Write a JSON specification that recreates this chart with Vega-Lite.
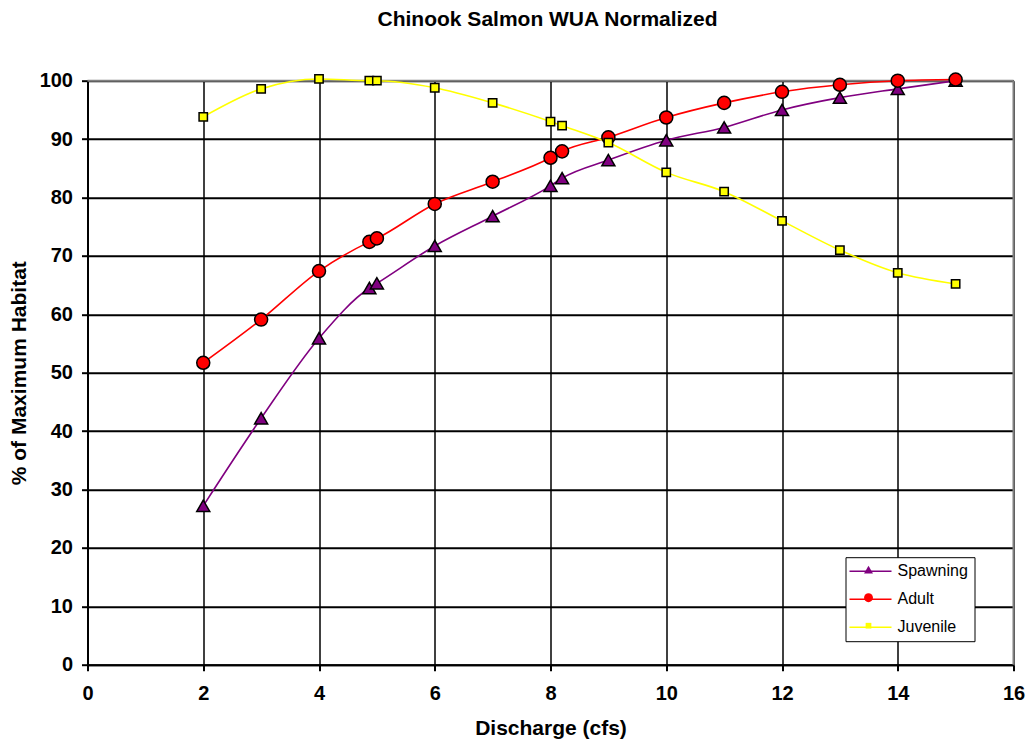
{
  "$schema": "https://vega.github.io/schema/vega-lite/v6.json",
  "width": 926,
  "height": 584,
  "autosize": "none",
  "padding": {"left": 87.5, "top": 80.7, "right": 15.5, "bottom": 79.3},
  "background": "white",
  "title": {
    "text": "Chinook Salmon WUA Normalized",
    "font": "Liberation Sans",
    "fontSize": 21,
    "fontWeight": "bold",
    "color": "black",
    "anchor": "middle",
    "dx": -3,
    "offset": 40
  },
  "datasets": {
    "wua": [
      {"q": 2, "pct": 27.2, "series": "Spawning"},
      {"q": 3, "pct": 42.2, "series": "Spawning"},
      {"q": 4, "pct": 55.9, "series": "Spawning"},
      {"q": 4.87, "pct": 64.5, "series": "Spawning"},
      {"q": 5, "pct": 65.3, "series": "Spawning"},
      {"q": 6, "pct": 71.7, "series": "Spawning"},
      {"q": 7, "pct": 76.8, "series": "Spawning"},
      {"q": 8, "pct": 82.0, "series": "Spawning"},
      {"q": 8.2, "pct": 83.3, "series": "Spawning"},
      {"q": 9, "pct": 86.4, "series": "Spawning"},
      {"q": 10, "pct": 89.8, "series": "Spawning"},
      {"q": 11, "pct": 92.0, "series": "Spawning"},
      {"q": 12, "pct": 95.0, "series": "Spawning"},
      {"q": 13, "pct": 97.1, "series": "Spawning"},
      {"q": 14, "pct": 98.6, "series": "Spawning"},
      {"q": 15, "pct": 100, "series": "Spawning"},
      {"q": 2, "pct": 51.7, "series": "Adult"},
      {"q": 3, "pct": 59.1, "series": "Adult"},
      {"q": 4, "pct": 67.4, "series": "Adult"},
      {"q": 4.87, "pct": 72.4, "series": "Adult"},
      {"q": 5, "pct": 73.0, "series": "Adult"},
      {"q": 6, "pct": 78.9, "series": "Adult"},
      {"q": 7, "pct": 82.7, "series": "Adult"},
      {"q": 8, "pct": 86.8, "series": "Adult"},
      {"q": 8.2, "pct": 87.9, "series": "Adult"},
      {"q": 9, "pct": 90.3, "series": "Adult"},
      {"q": 10, "pct": 93.7, "series": "Adult"},
      {"q": 11, "pct": 96.2, "series": "Adult"},
      {"q": 12, "pct": 98.1, "series": "Adult"},
      {"q": 13, "pct": 99.3, "series": "Adult"},
      {"q": 14, "pct": 100, "series": "Adult"},
      {"q": 15, "pct": 100.2, "series": "Adult"},
      {"q": 2, "pct": 93.8, "series": "Juvenile"},
      {"q": 3, "pct": 98.6, "series": "Juvenile"},
      {"q": 4, "pct": 100.3, "series": "Juvenile"},
      {"q": 4.87, "pct": 100, "series": "Juvenile"},
      {"q": 5, "pct": 100, "series": "Juvenile"},
      {"q": 6, "pct": 98.8, "series": "Juvenile"},
      {"q": 7, "pct": 96.2, "series": "Juvenile"},
      {"q": 8, "pct": 93.0, "series": "Juvenile"},
      {"q": 8.2, "pct": 92.3, "series": "Juvenile"},
      {"q": 9, "pct": 89.4, "series": "Juvenile"},
      {"q": 10, "pct": 84.3, "series": "Juvenile"},
      {"q": 11, "pct": 81.0, "series": "Juvenile"},
      {"q": 12, "pct": 76.0, "series": "Juvenile"},
      {"q": 13, "pct": 71.0, "series": "Juvenile"},
      {"q": 14, "pct": 67.1, "series": "Juvenile"},
      {"q": 15, "pct": 65.2, "series": "Juvenile"}
    ]
  },
  "layer": [
    {
      "data": {"values": [{}]},
      "mark": {"type": "rule", "color": "#808080", "strokeWidth": 2},
      "encoding": {
        "x": {"datum": 0, "type": "quantitative"},
        "x2": {"datum": 16},
        "y": {"datum": 100, "type": "quantitative"}
      }
    },
    {
      "data": {"values": [{}]},
      "mark": {"type": "rule", "color": "#808080", "strokeWidth": 2},
      "encoding": {
        "x": {"datum": 16, "type": "quantitative"},
        "y": {"datum": 0, "type": "quantitative"},
        "y2": {"datum": 100}
      }
    },
    {
      "data": {"name": "wua"},
      "mark": {"type": "line", "interpolate": "monotone", "strokeWidth": 1.6},
      "encoding": {
        "x": {
          "field": "q",
          "type": "quantitative",
          "scale": {"domain": [0, 16], "nice": false, "zero": true},
          "axis": {
            "title": "Discharge (cfs)",
            "values": [0, 2, 4, 6, 8, 10, 12, 14, 16],
            "format": "d",
            "grid": true,
            "gridColor": "black",
            "gridWidth": 1.5,
            "gridOpacity": 1,
            "domainColor": "black",
            "domainWidth": 2,
            "tickColor": "black",
            "tickWidth": 2,
            "tickSize": 6,
            "labelFont": "Liberation Sans",
            "labelFontWeight": "bold",
            "labelFontSize": 20,
            "labelColor": "black",
            "labelPadding": 13,
            "labelFlush": false,
            "labelOverlap": false,
            "titleFont": "Liberation Sans",
            "titleFontWeight": "bold",
            "titleFontSize": 21,
            "titleColor": "black",
            "titlePadding": 14
          }
        },
        "y": {
          "field": "pct",
          "type": "quantitative",
          "scale": {"domain": [0, 100], "nice": false},
          "axis": {
            "title": "% of Maximum Habitat",
            "values": [0, 10, 20, 30, 40, 50, 60, 70, 80, 90, 100],
            "grid": true,
            "gridColor": "black",
            "gridWidth": 2,
            "gridOpacity": 1,
            "domainColor": "black",
            "domainWidth": 2,
            "tickColor": "black",
            "tickWidth": 2,
            "tickSize": 6,
            "labelFont": "Liberation Sans",
            "labelFontWeight": "bold",
            "labelFontSize": 20,
            "labelColor": "black",
            "labelPadding": 9,
            "labelOverlap": false,
            "titleFont": "Liberation Sans",
            "titleFontWeight": "bold",
            "titleFontSize": 21,
            "titleColor": "black",
            "titlePadding": 10
          }
        },
        "color": {
          "field": "series",
          "type": "nominal",
          "sort": null,
          "scale": {"range": ["#800080", "#FF0000", "#FFFF00"]},
          "legend": {
            "orient": "none",
            "legendX": 758,
            "legendY": 476.5,
            "title": null,
            "symbolType": "M-4.2,0L4.2,0",
            "symbolSize": 100,
            "symbolStrokeWidth": 1.6,
            "labelFont": "Liberation Sans",
            "labelFontSize": 16,
            "labelColor": "black",
            "padding": 6,
            "rowPadding": 12,
            "symbolOffset": 11,
            "labelOffset": 19,
            "fillColor": "white",
            "strokeColor": "black"
          }
        }
      }
    },
    {
      "data": {"name": "wua"},
      "mark": {"type": "point", "filled": true, "opacity": 1, "stroke": "black", "strokeWidth": 1.5, "size": 170},
      "encoding": {
        "x": {"field": "q", "type": "quantitative"},
        "y": {"field": "pct", "type": "quantitative"},
        "fill": {
          "field": "series",
          "type": "nominal",
          "scale": {"domain": ["Spawning", "Adult", "Juvenile"], "range": ["#800080", "#FF0000", "#FFFF00"]},
          "legend": {
            "orient": "bottom-right",
            "offset": 25,
            "title": null,
            "symbolSize": 80,
            "symbolStrokeColor": "black",
            "symbolStrokeWidth": 1.5,
            "labelFont": "Liberation Sans",
            "labelFontSize": 16,
            "labelExpr": "''",
            "labelOffset": 106,
            "padding": 6,
            "rowPadding": 12
          }
        },
        "shape": {
          "field": "series",
          "type": "nominal",
          "scale": {"domain": ["Spawning", "Adult", "Juvenile"], "range": ["triangle-up", "circle", "M-0.64,-0.64H0.64V0.64H-0.64Z"]},
          "legend": {
            "orient": "bottom-right",
            "offset": 25,
            "title": null,
            "symbolSize": 80,
            "symbolStrokeColor": "black",
            "symbolStrokeWidth": 1.5,
            "labelFont": "Liberation Sans",
            "labelFontSize": 16,
            "labelExpr": "''",
            "labelOffset": 106,
            "padding": 6,
            "rowPadding": 12
          }
        }
      }
    }
  ],
  "config": {
    "view": {"stroke": null}
  }
}
